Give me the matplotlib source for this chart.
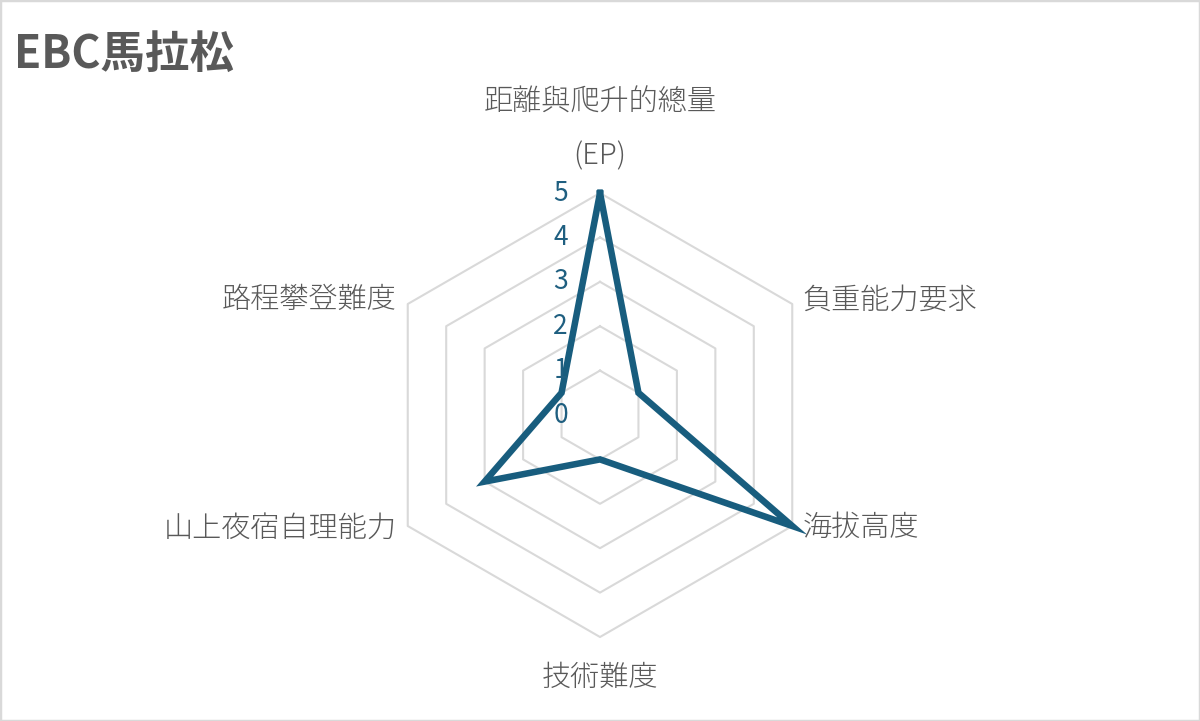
import numpy as np
import matplotlib
matplotlib.use("Agg")
import matplotlib.pyplot as plt
from matplotlib.patches import Rectangle

plt.rcParams['font.family'] = ['Noto Sans CJK JP', 'DejaVu Sans']

title = "EBC馬拉松"
categories = ["距離與爬升的總量\n(EP)", "負重能力要求", "海拔高度", "技術難度", "山上夜宿自理能力", "路程攀登難度"]
values = [5, 1, 5, 1, 3, 1]
r_ticks = [0, 1, 2, 3, 4, 5]
r_max = 5

line_color = '#185d7e'
tick_color = '#1f5f80'
grid_color = '#d9d9d9'
text_color = '#595959'
cjk = ['Noto Sans CJK JP', 'DejaVu Sans']

fig = plt.figure(figsize=(12, 7.21), dpi=100)
fig.patch.set_facecolor('white')
fig.add_artist(Rectangle((0, 0), 1, 1, transform=fig.transFigure, fill=False,
                         edgecolor=grid_color, linewidth=2.5, zorder=10))

ax = fig.add_axes([0.315, 0.1165, 0.37, 0.6158], projection='polar')
ax.set_theta_zero_location('N')
ax.set_theta_direction(-1)
ax.set_ylim(0, r_max)
ax.grid(False)
ax.spines['polar'].set_visible(False)
ax.set_xticks([])
ax.set_yticks([])
ax.patch.set_alpha(0)

n = len(categories)
theta = np.linspace(0, 2 * np.pi, n, endpoint=False)
theta_c = np.append(theta, theta[0])

# hexagonal gridlines
for lvl in r_ticks[1:]:
    ax.plot(theta_c, [lvl] * (n + 1), color=grid_color, linewidth=1.5, zorder=1, clip_on=False)

# data line
vals_c = values + values[:1]
ax.plot(theta_c, vals_c, color=line_color, linewidth=4.7, solid_joinstyle='miter', zorder=3, clip_on=False)

# tick labels
for t in r_ticks:
    ax.annotate(str(t), xy=(0, t), xytext=(-32, 0), textcoords='offset pixels',
                ha='right', va='center', fontsize=19, color=tick_color, zorder=4,
                family=cjk, fontweight=400)

# category labels
offsets = [
    ((0, 22), 'center', 'bottom'),
    ((10, 4), 'left', 'center'),
    ((10, -2), 'left', 'center'),
    ((0, -41), 'center', 'center'),
    ((-11, -2), 'right', 'center'),
    ((-11, 4), 'right', 'center'),
]
for i, (lab, (off, ha, va)) in enumerate(zip(categories, offsets)):
    ax.annotate(lab, xy=(theta[i], r_max), xytext=off, textcoords='offset pixels',
                ha=ha, va=va, fontsize=21, color=text_color, family=cjk,
                fontweight=300, linespacing=1.95, multialignment='center')

fig.text(14 / 1200, 1 - 55 / 721, title, ha='left', va='center', fontsize=32,
         fontweight='bold', color=text_color, family=cjk)

fig.savefig('out.png', dpi=100)
